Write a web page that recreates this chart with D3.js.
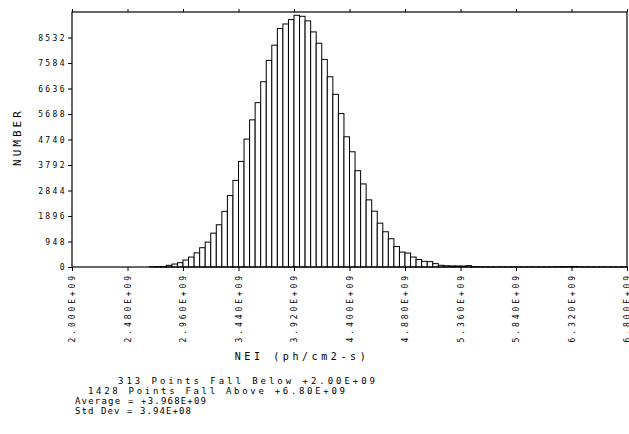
<!DOCTYPE html>
<html>
<head>
<meta charset="utf-8">
<script src="https://cdn.jsdelivr.net/npm/d3@7"></script>
<style>
  body { margin: 0; background: #fff; }
  text { font-family: "DejaVu Sans Mono", monospace; fill: #000; }
</style>
</head>
<body>
<svg id="svg"></svg>
<script>
const width = 629;
const height = 434;

const margin = { top: 12, right: 2, bottom: 167, left: 72 };

// histogram: 100 bins of 0.048E+09 starting at 2.00E+09
const binStart = 2.0e9;
const binWidth = 0.048e9;
const counts = [
    0, 0, 0, 0, 0, 0, 0, 0, 0, 0,
    0, 0, 0, 0, 10, 15, 20, 63, 110, 160,
    260, 370, 525, 718, 925, 1259, 1570, 2070, 2655, 3220,
    3925, 4755, 5470, 6110, 6888, 7680, 8247, 8865, 9035, 9198,
    9357, 9320, 9150, 8740, 8320, 7717, 7073, 6420, 5703, 4840,
    4284, 3580, 3088, 2496, 2074, 1630, 1310, 1051, 760, 555,
    518, 370, 280, 210, 200, 125, 63, 45, 40, 38,
    35, 50, 15, 10, 8, 6, 5, 5, 5, 5,
    5, 5, 5, 5, 5, 5, 6, 12, 18, 15,
    20, 10, 6, 5, 5, 5, 5, 5, 5, 8
];

const xTicks = [2.00e9, 2.48e9, 2.96e9, 3.44e9, 3.92e9, 4.40e9, 4.88e9, 5.36e9, 5.84e9, 6.32e9, 6.80e9];
const xTickLabels = ["2.000E+09", "2.480E+09", "2.960E+09", "3.440E+09", "3.920E+09", "4.400E+09",
    "4.880E+09", "5.360E+09", "5.840E+09", "6.320E+09", "6.800E+09"];
const yTicks = [0, 948, 1896, 2844, 3792, 4740, 5688, 6636, 7584, 8532];

const statLines = [
    "313 Points Fall Below +2.00E+09",
    "1428 Points Fall Above +6.80E+09",
    "Average = +3.968E+09",
    "Std Dev = 3.94E+08"
];
// where each stat line starts and how wide it runs
const statX = [118, 88, 75, 75];
const statLen = [257, 257, 131, 116];

let svg = d3.select("#svg")
    .attr("width", width)
    .attr("height", height)
    .attr("viewBox", [0, 0, width, height]);

let xScale = d3.scaleLinear()
    .domain([2.0e9, 6.8e9])
    .range([margin.left, width - margin.right]);

let yScale = d3.scaleLinear()
    .domain([0, 9480])
    .range([height - margin.bottom, margin.top]);

// bars
svg.append("g")
    .selectAll(".bar")
    .data(counts)
    .enter()
    .append("rect")
        .attr("class", "bar")
        .attr("x", (d, i) => xScale(binStart + i * binWidth))
        .attr("y", d => yScale(d))
        .attr("width", xScale(binStart + binWidth) - xScale(binStart))
        .attr("height", d => yScale(0) - yScale(d))
        .attr("fill", "#fff")
        .attr("stroke", "#000")
        .attr("stroke-width", 1);

// frame
svg.append("rect")
    .attr("x", xScale(2.0e9))
    .attr("y", yScale(9480))
    .attr("width", xScale(6.8e9) - xScale(2.0e9))
    .attr("height", yScale(0) - yScale(9480))
    .attr("fill", "none")
    .attr("stroke", "#000")
    .attr("stroke-width", 1.2);

// bottom axis
let xAxis = svg.append("g")
    .attr("transform", `translate(0, ${yScale(0)})`)
    .call(d3.axisBottom(xScale).tickValues(xTicks).tickSize(4).tickFormat((d, i) => xTickLabels[i]));
xAxis.select(".domain").remove();
xAxis.selectAll("line").attr("stroke", "#000");
xAxis.selectAll("text")
    .attr("transform", "rotate(-90)")
    .attr("x", -6)
    .attr("y", 0)
    .attr("dy", "0.35em")
    .style("text-anchor", "end")
    .style("font-size", "8px")
    .style("letter-spacing", "2.9px");

// top ticks
let topAxis = svg.append("g")
    .attr("transform", `translate(0, ${yScale(9480)})`)
    .call(d3.axisTop(xScale).tickValues(xTicks).tickSize(3).tickFormat(""));
topAxis.select(".domain").remove();

// left axis
let yAxis = svg.append("g")
    .attr("transform", `translate(${margin.left}, 0)`)
    .call(d3.axisLeft(yScale).tickValues(yTicks).tickSize(4).tickFormat(d3.format("d")));
yAxis.select(".domain").remove();
yAxis.selectAll("text")
    .attr("x", -5)
    .style("font-size", "8px")
    .style("letter-spacing", "2.4px");

svg.append("text")
    .text("NUMBER")
    .attr("transform", "rotate(-90)")
    .attr("x", -137)
    .attr("y", 21)
    .attr("text-anchor", "middle")
    .style("font-size", "11px")
    .style("letter-spacing", "3px");

svg.append("text")
    .text("NEI (ph/cm2-s)")
    .attr("x", 302)
    .attr("y", 360)
    .attr("text-anchor", "middle")
    .style("font-size", "10px")
    .style("letter-spacing", "3.6px");

svg.append("g")
    .selectAll(".stat")
    .data(statLines)
    .enter()
    .append("text")
        .attr("class", "stat")
        .text(d => d)
        .attr("x", (d, i) => statX[i])
        .attr("y", (d, i) => 384 + i * 10)
        .attr("textLength", (d, i) => statLen[i])
        .attr("lengthAdjust", "spacing")
        .style("font-size", "9px");

svg.node();
</script>
</body>
</html>
